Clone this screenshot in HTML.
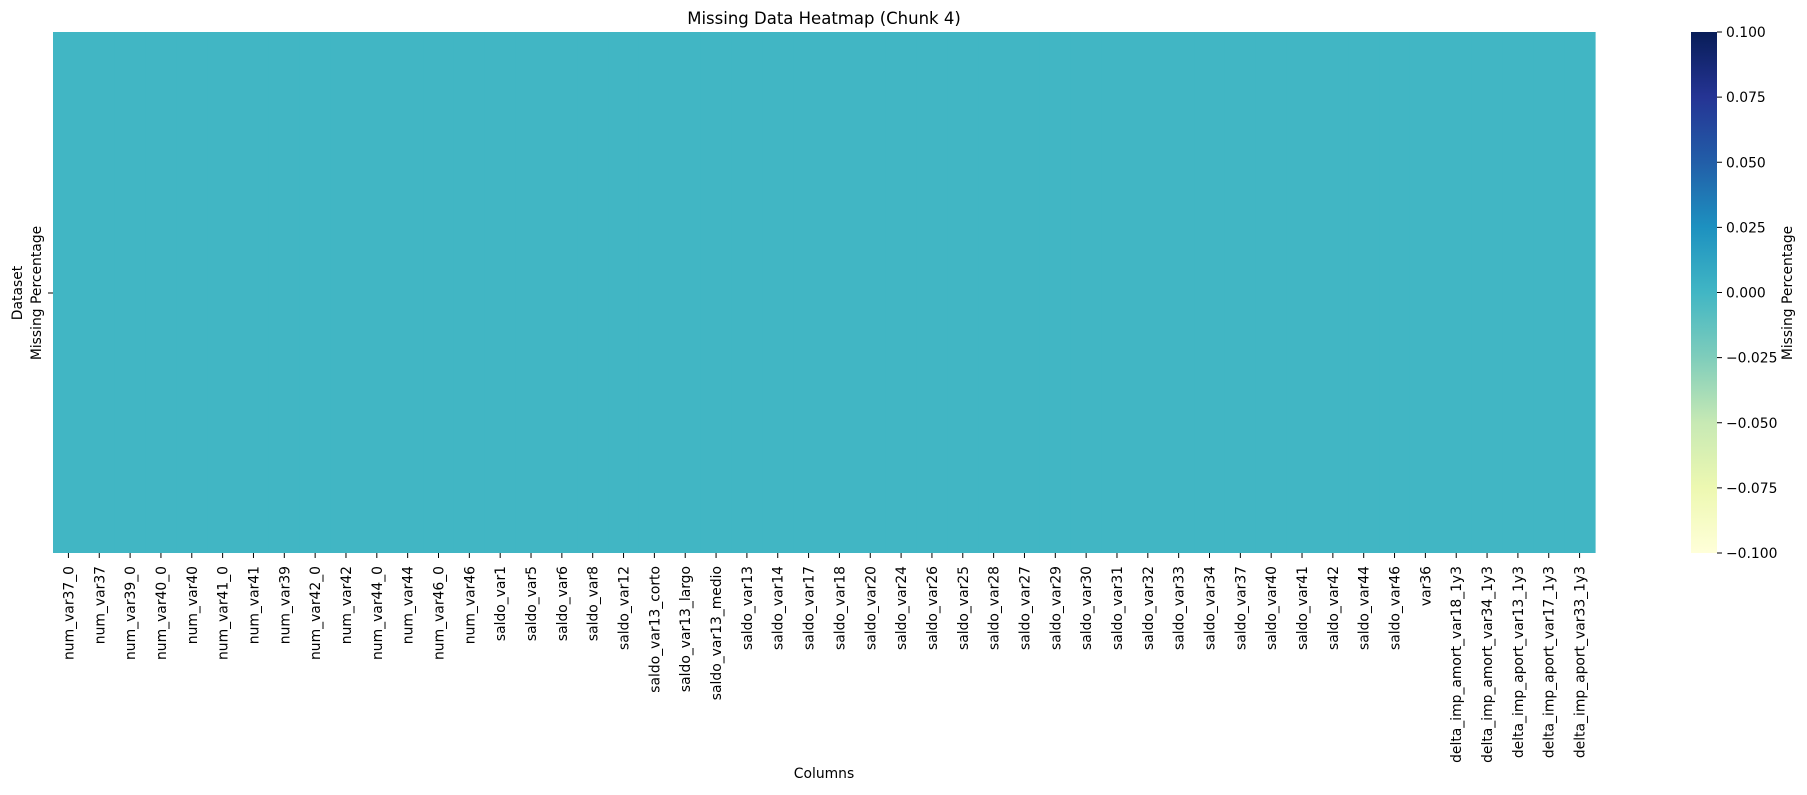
<!DOCTYPE html>
<html><head><meta charset="utf-8"><style>
html,body{margin:0;padding:0;background:#fff;}
svg text{font-family:"DejaVu Sans","Liberation Sans",sans-serif;fill:#000;}
</style></head><body>
<svg id="chart" width="1807" height="790" viewBox="0 0 1807 790" xmlns="http://www.w3.org/2000/svg">
<defs><linearGradient id="ylgnbu" x1="0" y1="1" x2="0" y2="0">
<stop offset="0" stop-color="#ffffd9"/><stop offset="0.125" stop-color="#edf8b1"/><stop offset="0.25" stop-color="#c7e9b4"/><stop offset="0.375" stop-color="#7fcdbb"/><stop offset="0.5" stop-color="#41b6c4"/><stop offset="0.625" stop-color="#1d91c0"/><stop offset="0.75" stop-color="#225ea8"/><stop offset="0.875" stop-color="#253494"/><stop offset="1" stop-color="#081d58"/>
</linearGradient></defs>
<text x="824" y="24" font-size="16.5" text-anchor="middle">Missing Data Heatmap (Chunk 4)</text>
<g id="cells"></g>
<g id="xticks"></g>
<text x="824" y="778" font-size="13.9" text-anchor="middle">Columns</text>
<text transform="translate(22,293) rotate(-90)" font-size="13.9" text-anchor="middle">Dataset</text>
<line x1="48" x2="53" y1="293" y2="293" stroke="#000" stroke-width="1"/>
<text transform="translate(41,293) rotate(-90)" font-size="13.9" text-anchor="middle">Missing Percentage</text>
<rect x="1691" y="32" width="26" height="521" fill="url(#ylgnbu)"/>
<g id="cticks"></g>
<text transform="translate(1792,293) rotate(-90)" font-size="13.9" text-anchor="middle">Missing Percentage</text>
</svg>
<script>
const columns = ["num_var37_0","num_var37","num_var39_0","num_var40_0","num_var40","num_var41_0","num_var41","num_var39","num_var42_0","num_var42","num_var44_0","num_var44","num_var46_0","num_var46","saldo_var1","saldo_var5","saldo_var6","saldo_var8","saldo_var12","saldo_var13_corto","saldo_var13_largo","saldo_var13_medio","saldo_var13","saldo_var14","saldo_var17","saldo_var18","saldo_var20","saldo_var24","saldo_var26","saldo_var25","saldo_var28","saldo_var27","saldo_var29","saldo_var30","saldo_var31","saldo_var32","saldo_var33","saldo_var34","saldo_var37","saldo_var40","saldo_var41","saldo_var42","saldo_var44","saldo_var46","var36","delta_imp_amort_var18_1y3","delta_imp_amort_var34_1y3","delta_imp_aport_var13_1y3","delta_imp_aport_var17_1y3","delta_imp_aport_var33_1y3"];
const missingValues = columns.map(() => 0);
const colorTicks = [0.100,0.075,0.050,0.025,0.000,-0.025,-0.050,-0.075,-0.100];
const vmin = -0.1, vmax = 0.1;
const NS = "http://www.w3.org/2000/svg";
const L = 53, R = 1595, T = 32, B = 553;
const cw = (R - L) / columns.length;
const xPos = i => L + i * cw;
const cbY = v => B - (v - vmin) / (vmax - vmin) * (B - T);
const stops = ["#ffffd9","#edf8b1","#c7e9b4","#7fcdbb","#41b6c4","#1d91c0","#225ea8","#253494","#081d58"];
function hex(c){return [1,3,5].map(i=>parseInt(c.substr(i,2),16));}
function colorFor(v){
  let t = Math.max(0, Math.min(1, (v - vmin) / (vmax - vmin))) * (stops.length - 1);
  let i = Math.min(stops.length - 2, Math.floor(t)), f = t - i;
  let a = hex(stops[i]), b = hex(stops[i+1]);
  return "rgb(" + a.map((x,k)=>Math.round(x + (b[k]-x)*f)).join(",") + ")";
}
const cells = document.getElementById("cells"), xt = document.getElementById("xticks"), ct = document.getElementById("cticks");
columns.forEach((c, i) => {
  const r = document.createElementNS(NS, "rect");
  
  
  r.setAttribute("x", xPos(i)); r.setAttribute("y", T);
  r.setAttribute("width", cw + 0.6); r.setAttribute("height", B - T);
  r.setAttribute("fill", colorFor(missingValues[i]));
  cells.appendChild(r);
  const cx = xPos(i) + cw / 2;
  const tk = document.createElementNS(NS, "line");
  
  
  tk.setAttribute("x1", cx); tk.setAttribute("x2", cx); tk.setAttribute("y1", B); tk.setAttribute("y2", B + 5);
  tk.setAttribute("stroke", "#000");
  xt.appendChild(tk);
  const tx = document.createElementNS(NS, "text");
  
  
  tx.setAttribute("transform", "translate(" + (cx + 5) + "," + (B + 13) + ") rotate(-90)");
  tx.setAttribute("font-size", "13.9");
  tx.setAttribute("text-anchor", "end");
  tx.textContent = c;
  xt.appendChild(tx);
});
colorTicks.forEach(v => {
  const y = cbY(v);
  const tk = document.createElementNS(NS, "line");
  
  
  tk.setAttribute("x1", 1717); tk.setAttribute("x2", 1722); tk.setAttribute("y1", y); tk.setAttribute("y2", y);
  tk.setAttribute("stroke", "#000");
  ct.appendChild(tk);
  const tx = document.createElementNS(NS, "text");
  
  
  tx.setAttribute("x", 1726); tx.setAttribute("y", y + 5);
  tx.setAttribute("font-size", "13.9");
  tx.textContent = (v < 0 ? "\u2212" : "") + Math.abs(v).toFixed(3);
  ct.appendChild(tx);
});
</script>
</body></html>
